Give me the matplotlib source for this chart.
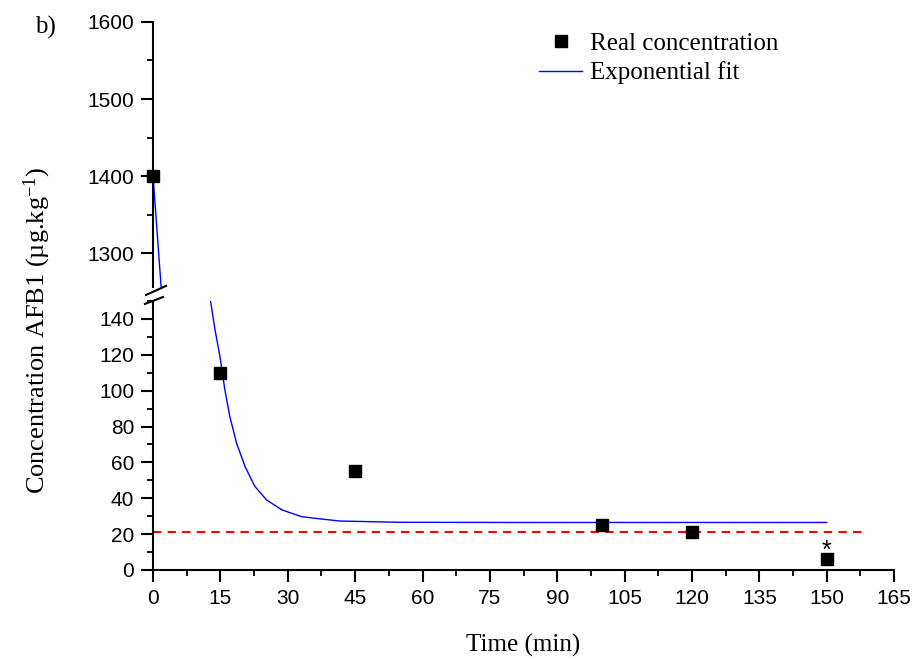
import matplotlib.pyplot as plt
from matplotlib.ticker import MultipleLocator

plt.rcParams["mathtext.fontset"] = "custom"
plt.rcParams["mathtext.rm"] = "Liberation Serif"
plt.rcParams["mathtext.it"] = "Liberation Serif:italic"

# measured concentrations
time_pts = [0, 15, 45, 100, 120, 150]
conc_pts = [1400, 110, 55, 25, 21, 6]

# exponential fit curve
fit_t = [0, 1.8, 12.8, 13.8, 14.9, 16.0, 17.1, 18.6, 20.5, 22.7, 25.3, 28.7,
         33.1, 37.9, 41.6, 55, 80, 150]
fit_c = [1400, 1256, 150, 134, 119, 100.4, 85.5, 70.7, 57.6, 46.5, 39, 33.5,
         29.7, 28.3, 27.3, 26.6, 26.5, 26.5]

limit_value = 21
limit_end = 158

xticks = list(range(0, 166, 15))

serif = "Liberation Serif"
sans = "Liberation Sans"

fig = plt.figure(figsize=(9.17, 6.6), dpi=100)
ax_lo = fig.add_axes([0.1669, 0.1364, 0.8081, 0.4075])
ax_hi = fig.add_axes([0.1669, 0.5652, 0.8081, 0.4015], sharex=ax_lo)

for ax in (ax_lo, ax_hi):
    ax.plot(fit_t, fit_c, color="blue", lw=1, label="Exponential fit")
    ax.plot(time_pts, conc_pts, "s", color="black", ms=8.5, label="Real concentration",
            clip_on=False, zorder=5)
    ax.hlines(limit_value, 0, limit_end, colors="red", linestyles=(0, (4, 3)), lw=1.5)
    for side in ("top", "right"):
        ax.spines[side].set_visible(False)
    ax.spines["left"].set_linewidth(1.5)
    ax.spines["bottom"].set_linewidth(1.5)
    ax.tick_params(which="major", direction="out", length=8.5, width=1.5, pad=5)
    ax.tick_params(which="minor", direction="out", length=4, width=1.3)

ax_lo.set_xlim(0, 165)
ax_lo.set_ylim(0, 150)
ax_hi.set_ylim(1256, 1600)

ax_lo.set_xticks(xticks)
ax_lo.xaxis.set_minor_locator(MultipleLocator(7.5))
ax_lo.set_yticks(range(0, 141, 20))
ax_lo.yaxis.set_minor_locator(MultipleLocator(10))
ax_hi.set_yticks([1300, 1400, 1500, 1600])
ax_hi.yaxis.set_minor_locator(MultipleLocator(50))
for lab in ax_lo.get_xticklabels() + ax_lo.get_yticklabels() + ax_hi.get_yticklabels():
    lab.set_fontfamily(sans)
    lab.set_fontsize(15)

ax_hi.spines["bottom"].set_visible(False)
ax_hi.tick_params(axis="x", which="both", bottom=False, labelbottom=False)

ax_lo.annotate("*", (150, 6), xytext=(0, -2.5), textcoords="offset points",
               ha="center", va="bottom", fontsize=18, family=sans)

# axis break marks
kw = dict(color="black", lw=1.5, clip_on=False)
ax_hi.plot([-0.0094, 0.0175], [-0.030, 0.004], transform=ax_hi.transAxes, **kw)
ax_lo.plot([-0.011, 0.0135], [0.989, 1.015], transform=ax_lo.transAxes, **kw)

ax_lo.set_xlabel("Time (min)", fontsize=18, family=serif, labelpad=19)
fig.text(0.041, 0.5, "Concentration AFB1 (µg.kg$^{-1}$)", rotation=90, ha="center",
         va="center", fontsize=19, family=serif)
fig.text(0.038, 0.958, "b)", fontsize=18, family=serif, va="center")

h, l = ax_hi.get_legend_handles_labels()
ax_hi.legend(h[::-1], l[::-1], loc="upper left", bbox_to_anchor=(0.49, 1.045),
             frameon=False, prop={"family": serif, "size": 18}, handlelength=1.75,
             handletextpad=0.3, labelspacing=0.25)

fig.savefig("out.png", dpi=100)
